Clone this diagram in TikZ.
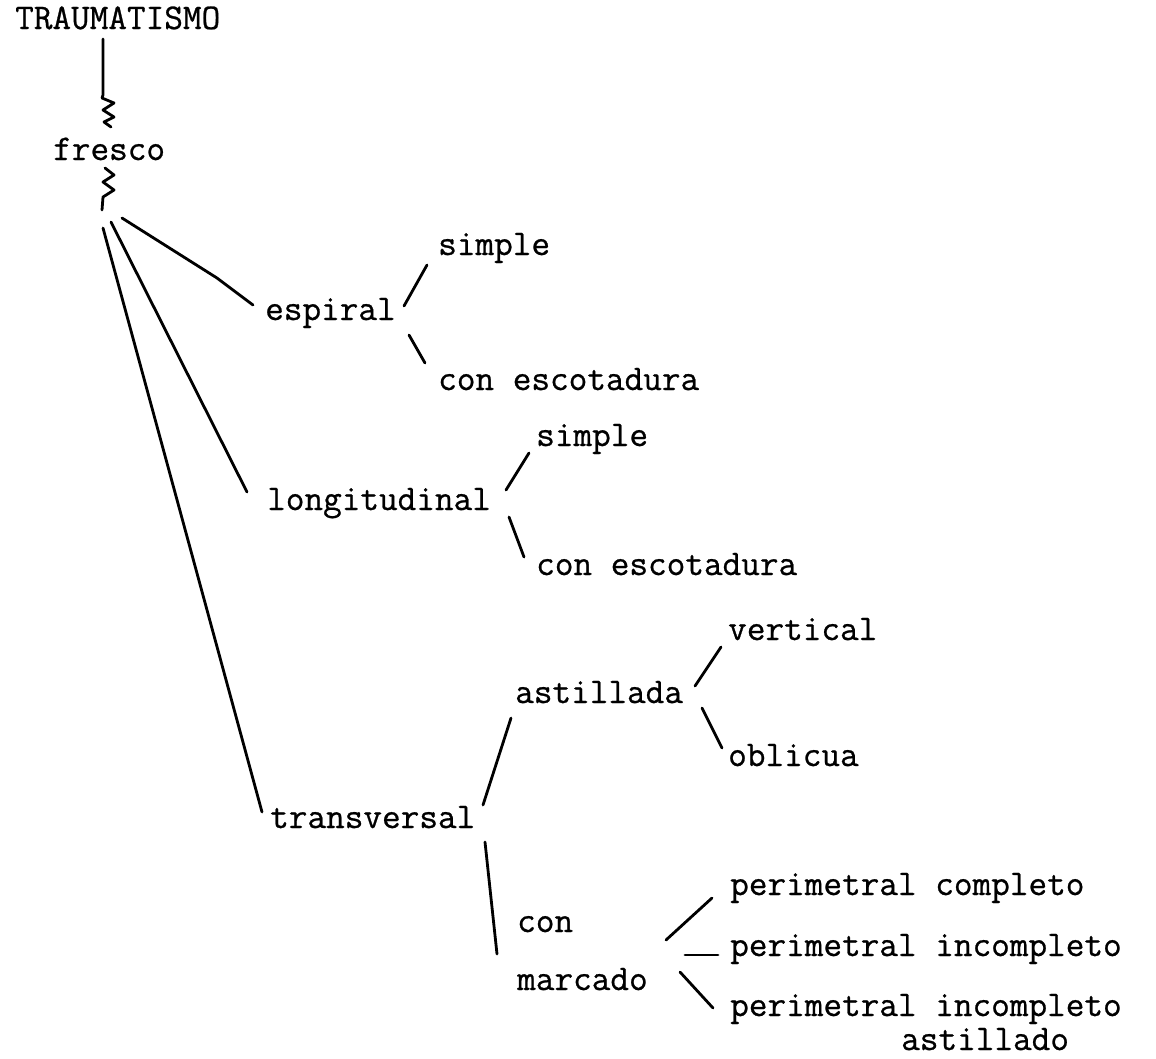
\documentclass[tikz,border=0pt]{standalone}
\usepackage{fontspec}
\setmonofont{Latin Modern Mono}[FakeBold=0.7]
\usetikzlibrary{calc}
\begin{document}
\begin{tikzpicture}[x=1pt,y=-1pt,
  lbl/.style={anchor=base west, inner sep=0pt, font=\ttfamily\fontsize{36.2}{40}\selectfont},
  conn/.style={line width=2.8pt, line cap=round, line join=round}]
\useasboundingbox[fill=white] (0,0) rectangle (1156,1058);
% nodes
\node[lbl] (T) at (15,29) {TRAUMATISMO};
\node[lbl] (fresco) at (53,160) {fresco};
\node[lbl] (espiral) at (265,320) {espiral};
\node[lbl] (simpleA) at (438,255) {simple};
\node[lbl] (conescA) at (438,390) {con escotadura};
\node[lbl] (longit) at (267,510) {longitudinal};
\node[lbl] (simpleB) at (536,446) {simple};
\node[lbl] (conescB) at (536,575) {con escotadura};
\node[lbl] (transv) at (270,828) {transversal};
\node[lbl] (astillada) at (515,703) {astillada};
\node[lbl] (vertical) at (728,640) {vertical};
\node[lbl] (oblicua) at (728,766) {oblicua};
\node[lbl] (con) at (517,932) {con};
\node[lbl] (marcado) at (517,990) {marcado};
\node[lbl] (pc) at (730,895) {perimetral completo};
\node[lbl] (pi) at (730,956) {perimetral incompleto};
\node[lbl, text depth=0pt] (pia) at (730,1016) {perimetral incompleto};
\node[lbl, text height=16pt] (astillado) at ($(pia.base west)+(171,34)$) {astillado};
% connectors
\draw[conn] ($(T.base west)+(88,10)$) -- ++(0,56) -- ++(-1,3) -- ++(12,5) -- ++(-11,7)
  -- ++(11,7) -- ++(-10,5) -- ++(7,5);
\draw[conn] ($(fresco.base west)+(52,8)$) -- ++(9,7) -- ++(-11,7) -- ++(11,8) -- ++(-11,7)
  -- ++(-1,13);
\draw[conn] ($(fresco.base west)+(69,58)$) -- ($(espiral.base west)+(-48,-42)$) -- ($(espiral.base west)+(-12,-15)$);
\draw[conn] ($(fresco.base west)+(58,62)$) -- ($(longit.base west)+(-20,-18)$);
\draw[conn] ($(fresco.base west)+(50,68)$) -- ($(transv.base west)+(-8,-16)$);
\draw[conn] ($(espiral.base west)+(139,-14)$) -- ($(simpleA.base west)+(-11,10)$);
\draw[conn] ($(espiral.base west)+(144,15)$) -- ($(conescA.base west)+(-13,-27)$);
\draw[conn] ($(longit.base west)+(239,-20)$) -- ($(simpleB.base west)+(-7,7)$);
\draw[conn] ($(longit.base west)+(242,7)$) -- ($(conescB.base west)+(-12,-18)$);
\draw[conn] ($(transv.base west)+(213,-23)$) -- ($(astillada.base west)+(-4,15)$);
\draw[conn] ($(astillada.base west)+(180,-17)$) -- ($(vertical.base west)+(-7,7)$);
\draw[conn] ($(astillada.base west)+(187,5)$) -- ($(oblicua.base west)+(-6,-18)$);
\draw[conn] ($(transv.base west)+(215,14)$) -- ($(con.base west)+(-20,22)$);
\draw[conn] ($(marcado.base west)+(149,-50)$) -- ($(pc.base west)+(-18,3)$);
\draw[conn] ($(marcado.base west)+(168,-35)$) -- ($(pi.base west)+(-12,-1)$);
\draw[conn] ($(marcado.base west)+(163,-18)$) -- ($(pia.base west)+(-17,-8)$);
\end{tikzpicture}
\end{document}
